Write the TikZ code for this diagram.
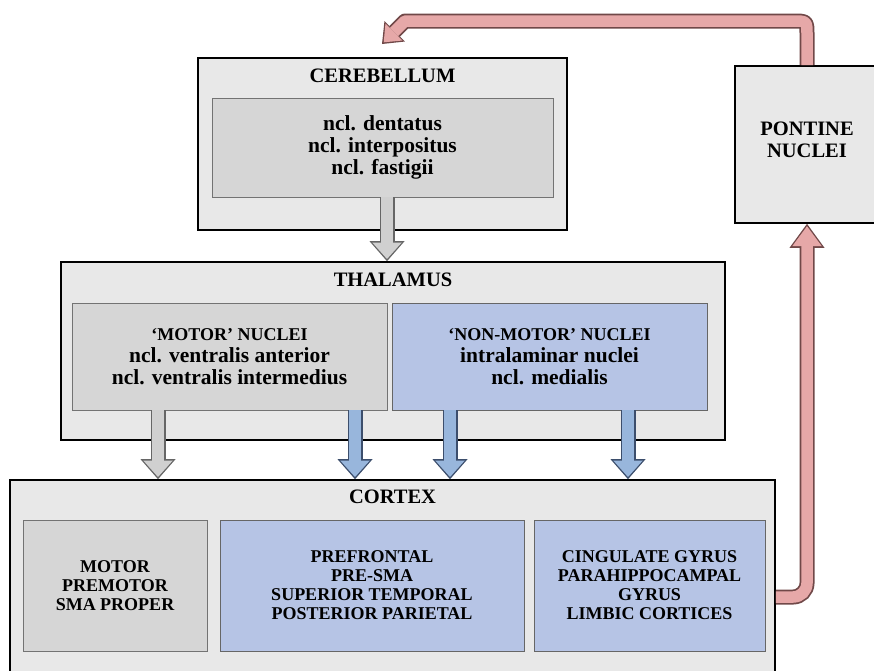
\documentclass[tikz,border=0pt]{standalone}
\usepackage{fontspec}
\setmainfont{Liberation Serif}
\usetikzlibrary{arrows.meta}
\definecolor{fondgris}{RGB}{232,232,232}
\definecolor{boitegris}{RGB}{214,214,214}
\definecolor{boitebleu}{RGB}{182,196,229}
\definecolor{flgris}{RGB}{208,208,208}
\definecolor{flbleu}{RGB}{152,182,220}
\definecolor{bordbleu}{RGB}{60,78,108}
\definecolor{rosa}{RGB}{230,168,168}
\definecolor{rosafonce}{RGB}{112,72,72}
\newcommand{\majs}[1]{{\fontsize{18}{22}\selectfont #1}}
\begin{document}
\begin{tikzpicture}[x=1pt,y=-1pt]
        \tikzstyle{cadre}=[draw=black,line width=1.6pt,fill=fondgris,inner sep=0pt]
        \tikzstyle{gris}=[draw=black!55,line width=0.8pt,fill=boitegris,inner sep=0pt,align=center]
        \tikzstyle{bleu}=[draw=black!60,line width=0.8pt,fill=boitebleu,inner sep=0pt,align=center]
        \tikzstyle{titre}=[font=\bfseries\fontsize{20.5}{22}\selectfont]
        \tikzstyle{texte}=[font=\bfseries\fontsize{21.5}{22}\selectfont]
        \tikzstyle{petit}=[font=\bfseries\fontsize{18}{19}\selectfont]
        \tikzstyle{flechegris}=[line width=15pt,draw=black!60,-{Triangle[length=20pt,width=35pt,line width=0pt]},
            postaction={draw=flgris,line width=12pt,shorten >=2.2pt,-{Triangle[length=16.5pt,width=29.5pt,line width=0pt]}}]
        \tikzstyle{flechebleu}=[line width=15pt,draw=bordbleu,-{Triangle[length=20pt,width=35pt,line width=0pt]},
            postaction={draw=flbleu,line width=12pt,shorten >=2.2pt,-{Triangle[length=16.5pt,width=29.5pt,line width=0pt]}}]
        \tikzstyle{retour}=[line width=15pt,draw=rosafonce,-{Triangle[length=24pt,width=35pt,line width=0pt]},
            postaction={draw=rosa,line width=11.5pt,shorten >=2.4pt,-{Triangle[length=20pt,width=29.5pt,line width=0pt]}}]
        \tikzstyle{retourhaut}=[line width=15pt,draw=rosafonce,line join=round,-{Triangle[length=18pt,width=29pt,line width=0pt]},
            postaction={draw=rosa,line width=11.5pt,line join=round,shorten >=2.4pt,-{Triangle[length=14.5pt,width=24pt,line width=0pt]}}]
        \useasboundingbox (0,0) rectangle (874,670);
        \clip (0,0) rectangle (874,670);
        \node[cadre,minimum width=369pt,minimum height=172pt] (cervelet) at (382.5,144) {};
        \node[titre] (tcervelet) at (382.5,76) {CEREBELLUM};
        \node[gris,texte,minimum width=341pt,minimum height=99pt] (noyaux) at (382.5,147.5) {ncl. dentatus\\ncl. interpositus\\ncl. fastigii};
        \node[cadre,titre,align=center,minimum width=144pt,minimum height=157pt] (pont) at (807,144.5) {PONTINE\\NUCLEI\\[-12pt]};
        \node[cadre,minimum width=664pt,minimum height=178pt] (thalamus) at (393,351) {};
        \node[titre] (tthalamus) at (393,280) {THALAMUS};
        \node[gris,texte,minimum width=315pt,minimum height=107pt] (moteur) at (229.5,356.5) {\majs{`MOTOR' NUCLEI}\\ncl. ventralis anterior\\ncl. ventralis intermedius};
        \node[bleu,texte,minimum width=315pt,minimum height=107pt] (nonmoteur) at (549.5,356.5) {\majs{`NON-MOTOR' NUCLEI}\\intralaminar nuclei\\ncl. medialis};
        \node[cadre,minimum width=765pt,minimum height=234pt] (cortex) at (392.5,597) {};
        \node[titre] (tcortex) at (392.5,497) {CORTEX};
        \node[gris,petit,minimum width=184pt,minimum height=131pt] (cmoteur) at (115,585.5) {MOTOR\\PREMOTOR\\SMA PROPER};
        \node[bleu,petit,minimum width=304pt,minimum height=131pt] (cprefrontal) at (372,585.5) {PREFRONTAL\\PRE-SMA\\SUPERIOR TEMPORAL\\POSTERIOR PARIETAL};
        \node[bleu,petit,minimum width=231pt,minimum height=131pt] (climbique) at (649.5,585.5) {CINGULATE GYRUS\\PARAHIPPOCAMPAL\\GYRUS\\LIMBIC CORTICES};
        \coordinate (c0) at (387,0);
        \coordinate (c1) at (158,0);
        \coordinate (c2) at (355,0);
        \coordinate (c3) at (450,0);
        \coordinate (c4) at (628,0);
        \coordinate (arrivee) at (382,44);
        \draw[flechegris] (c0 |- noyaux.south) -- (c0 |- thalamus.north);
        \draw[flechegris] (c1 |- moteur.south) -- (c1 |- cortex.north);
        \draw[flechebleu] (c2 |- moteur.south) -- (c2 |- cortex.north);
        \draw[flechebleu] (c3 |- nonmoteur.south) -- (c3 |- cortex.north);
        \draw[flechebleu] (c4 |- nonmoteur.south) -- (c4 |- cortex.north);
        \draw[retour,rounded corners=14pt] (cortex.east) -| (pont.south);
        \draw[retourhaut] (pont.north) -- (807,35) .. controls (807,21) .. (793,21) -- (405,21) -- (arrivee);
\end{tikzpicture}
\end{document}
